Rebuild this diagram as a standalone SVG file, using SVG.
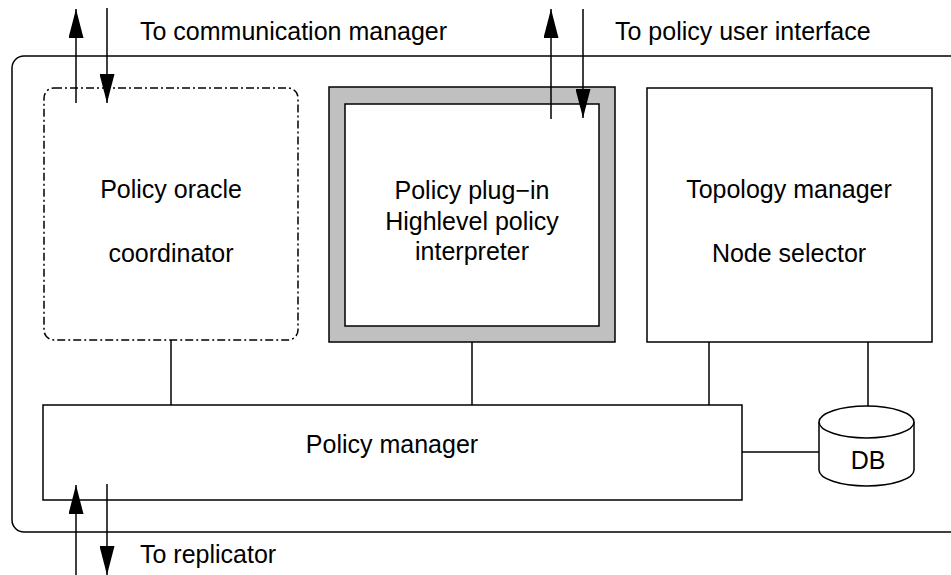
<svg xmlns="http://www.w3.org/2000/svg" width="951" height="575" viewBox="0 0 951 575">
  <style>
    .box { fill: #ffffff; stroke: #000000; stroke-width: 1.5; }
    .line { fill: none; stroke: #000000; stroke-width: 1.5; }
    .label { font-family: "Liberation Sans", Arial, sans-serif; font-size: 25px; fill: #000000; }
    .mid { text-anchor: middle; }
  </style>
  <defs>
    <marker id="head" viewBox="0 0 29 15" refX="29" refY="7.5" markerWidth="29" markerHeight="15" markerUnits="userSpaceOnUse" orient="auto">
      <path d="M0,0 L29,7.5 L0,15 Z" fill="#000000"/>
    </marker>
  </defs>

  <rect width="951" height="575" fill="#ffffff"/>

  <!-- enclosing frame -->
  <g id="frame">
    <rect x="12" y="56" width="970" height="476" rx="12" ry="12" class="line"/>
  </g>

  <!-- external labels -->
  <g id="external-labels">
    <text x="140" y="40" class="label">To communication manager</text>
    <text x="615" y="40" class="label">To policy user interface</text>
    <text x="140" y="563" class="label">To replicator</text>
  </g>

  <g id="oracle">
    <rect x="44" y="88" width="254" height="252" rx="10" ry="10" class="box" stroke-dasharray="8 3 2 3"/>
    <text x="171" y="198" class="label mid">Policy oracle</text>
    <text x="171" y="262" class="label mid">coordinator</text>
  </g>

  <g id="plugin">
    <rect x="329" y="87" width="286" height="255" fill="#c0c0c0" stroke="#000000" stroke-width="1.5"/>
    <rect x="345" y="104" width="254" height="222" class="box"/>
    <text x="472" y="199" class="label mid">Policy plug−in</text>
    <text x="472" y="230" class="label mid">Highlevel policy</text>
    <text x="472" y="260" class="label mid">interpreter</text>
  </g>

  <g id="topology">
    <rect x="647" y="88" width="285" height="254" class="box"/>
    <text x="789" y="198" class="label mid">Topology manager</text>
    <text x="789" y="262" class="label mid">Node selector</text>
  </g>

  <g id="policy-manager">
    <rect x="43" y="405" width="699" height="95" class="box"/>
    <text x="392" y="453" class="label mid">Policy manager</text>
  </g>

  <g id="db">
    <path d="M819,422 L819,470 A47.5,16 0 0 0 914,470 L914,422" class="box"/>
    <ellipse cx="866.5" cy="422" rx="47.5" ry="16" class="box"/>
    <text x="868" y="469" class="label mid">DB</text>
  </g>

  <g id="connectors">
    <!-- internal links -->
    <line x1="171" y1="340" x2="171" y2="405" class="line"/>
    <line x1="472" y1="342" x2="472" y2="405" class="line"/>
    <line x1="709" y1="342" x2="709" y2="405" class="line"/>
    <line x1="868" y1="342" x2="868" y2="406" class="line"/>
    <line x1="742" y1="452" x2="819" y2="452" class="line"/>

    <!-- communication manager pair -->
    <line x1="76" y1="103" x2="76" y2="9" class="line" marker-end="url(#head)"/>
    <line x1="107" y1="8" x2="107" y2="103" class="line" marker-end="url(#head)"/>

    <!-- policy user interface pair -->
    <line x1="551" y1="119" x2="551" y2="9" class="line" marker-end="url(#head)"/>
    <line x1="583" y1="9" x2="583" y2="118" class="line" marker-end="url(#head)"/>

    <!-- replicator pair -->
    <line x1="76" y1="575" x2="76" y2="485" class="line" marker-end="url(#head)"/>
    <line x1="107" y1="484" x2="107" y2="575" class="line" marker-end="url(#head)"/>
  </g>
</svg>
